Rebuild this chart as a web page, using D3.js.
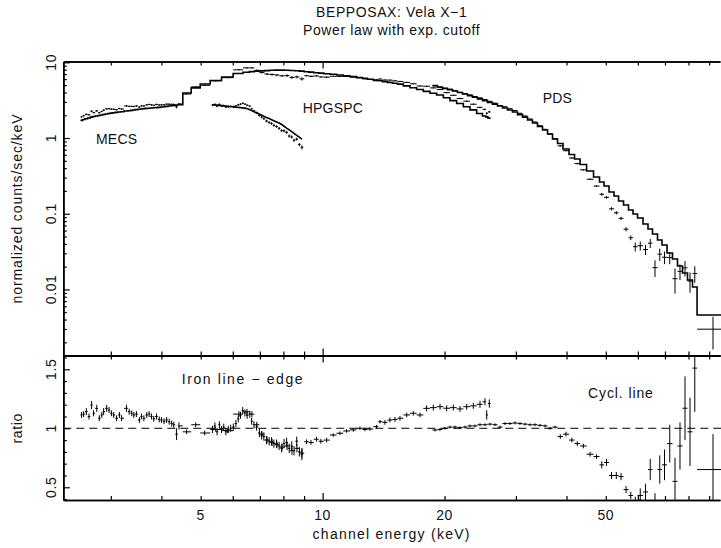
<!DOCTYPE html>
<html>
<head>
<meta charset="utf-8">
<script src="https://cdn.jsdelivr.net/npm/d3@7"></script>
<style>
  body { margin: 0; background: #fff; }
  svg text { font-family: "Liberation Sans", Arial, sans-serif; font-size: 14px; fill: #111; letter-spacing: 0.6px; }
</style>
</head>
<body>
<svg></svg>
<script>
// MECS spectrum: channel energy (keV), model (counts/s/keV), data/model ratio and its error
let mecsEnergy = [
  2.54, 2.57, 2.61, 2.65, 2.69, 2.72, 2.77, 2.81, 2.85, 2.88, 2.93, 2.97, 3.01, 3.05, 3.10, 3.15, 3.19, 3.28, 3.33, 3.38,
  3.42, 3.47, 3.53, 3.57, 3.62, 3.68, 3.73, 3.78, 3.83, 3.89, 3.95, 4.00, 4.06, 4.12, 4.18, 4.24, 4.29, 4.36, 4.42,
  4.616, 4.862, 5.114, 5.445, 5.82, 6.214,
  6.505, 6.69, 6.88, 7.08, 7.29, 7.50, 7.71, 7.94, 8.17, 8.40, 8.64, 8.89, 9.13, 9.36, 9.66, 9.90, 10.23, 10.62, 11.03, 11.46,
  11.90, 12.36, 12.72, 13.09, 13.59, 13.85, 14.25, 14.66, 15.09, 15.52, 16.13, 16.74, 17.39, 18.06, 18.76, 19.49, 20.24, 21.02, 21.83, 22.68,
  23.55, 24.46, 25.16, 25.41, 25.79
];
let mecsModel = [
  1.71, 1.755, 1.80, 1.84, 1.885, 1.92, 1.953, 1.986, 2.016, 2.045, 2.08, 2.11, 2.135, 2.156, 2.18, 2.204, 2.225, 2.27, 2.296, 2.32,
  2.344, 2.37, 2.397, 2.42, 2.445, 2.46, 2.478, 2.493, 2.508, 2.524, 2.54, 2.564, 2.59, 2.62, 2.65, 2.676, 2.70, 2.73, 2.76,
  3.93, 4.60, 5.17, 5.75, 6.40, 7.11,
  7.40, 7.54, 7.61, 7.70, 7.77, 7.84, 7.89, 7.89, 7.84, 7.79, 7.72, 7.65, 7.51, 7.42, 7.29, 7.20, 7.07, 6.94, 6.80, 6.65,
  6.47, 6.28, 6.13, 5.98, 5.78, 5.70, 5.56, 5.44, 5.30, 5.15, 4.88, 4.62, 4.37, 4.13, 3.91, 3.70, 3.40, 3.12, 2.86, 2.59,
  2.35, 2.11, 1.95, 1.905, 1.83
];
let mecsRatio = [
  1.113, 1.12, 1.141, 1.10, 1.197, 1.127, 1.169, 1.085, 1.113, 1.141, 1.169, 1.155, 1.127, 1.113, 1.085, 1.113, 1.085, 1.169, 1.141, 1.127,
  1.113, 1.12, 1.07, 1.10, 1.085, 1.113, 1.12, 1.10, 1.08, 1.10, 1.075, 1.07, 1.06, 1.07, 1.056, 1.04, 1.03, 0.95, 1.02,
  0.97, 1.03, 0.96, 0.99, 0.98, 1.12,
  1.14, 1.12, 1.03, 0.95, 0.90, 0.88, 0.86, 0.84, 0.85, 0.81, 0.83, 0.79, 0.886, 0.88, 0.907, 0.89, 0.90, 0.943, 0.958, 0.977,
  0.986, 1.0, 0.99, 0.994, 1.014, 1.056, 1.05, 1.07, 1.075, 1.085, 1.113, 1.127, 1.113, 1.169, 1.175, 1.183, 1.17, 1.175, 1.164, 1.183,
  1.19, 1.203, 1.225, 1.113, 1.21
];
let mecsRatioErr = [
  0.025, 0.025, 0.03, 0.025, 0.035, 0.025, 0.03, 0.025, 0.025, 0.03, 0.03, 0.025, 0.025, 0.025, 0.025, 0.025, 0.025, 0.03, 0.025, 0.025,
  0.025, 0.025, 0.025, 0.025, 0.025, 0.025, 0.025, 0.025, 0.025, 0.025, 0.025, 0.025, 0.025, 0.025, 0.025, 0.025, 0.025, 0.05, 0.03,
  0.02, 0.02, 0.02, 0.02, 0.02, 0.025,
  0.025, 0.025, 0.025, 0.025, 0.03, 0.03, 0.03, 0.03, 0.035, 0.035, 0.035, 0.04, 0.02, 0.02, 0.02, 0.02, 0.02, 0.015, 0.015, 0.015,
  0.015, 0.015, 0.015, 0.015, 0.015, 0.015, 0.02, 0.02, 0.02, 0.02, 0.02, 0.02, 0.02, 0.025, 0.025, 0.025, 0.025, 0.025, 0.025, 0.025,
  0.025, 0.03, 0.03, 0.04, 0.035
];

// HPGSPC spectrum
let hpgEnergy = [
  5.35, 5.42, 5.49, 5.56, 5.63, 5.70, 5.77, 5.85, 5.93, 6.02, 6.11, 6.19, 6.27, 6.35, 6.43, 6.51, 6.61, 6.68, 6.77, 6.87,
  6.98, 7.07, 7.16, 7.27, 7.38, 7.48, 7.58, 7.70, 7.81, 7.92, 8.03, 8.15, 8.27, 8.39, 8.50, 8.63, 8.76, 8.89
];
let hpgModel = [
  2.75, 2.73, 2.72, 2.70, 2.68, 2.66, 2.64, 2.62, 2.61, 2.58, 2.55, 2.54, 2.52, 2.50, 2.48, 2.445, 2.36, 2.30, 2.22, 2.145,
  2.07, 2.00, 1.935, 1.865, 1.805, 1.745, 1.69, 1.63, 1.58, 1.51, 1.43, 1.35, 1.28, 1.215, 1.153, 1.086, 1.025, 0.967
];
let hpgRatio = [
  0.99, 1.02, 0.97, 1.03, 0.99, 1.01, 0.97, 0.99, 1.0, 1.01, 1.04, 1.08, 1.11, 1.15, 1.13, 1.11, 1.12, 1.06, 1.03, 1.01,
  0.96, 0.94, 0.93, 0.90, 0.89, 0.89, 0.87, 0.87, 0.85, 0.83, 0.87, 0.88, 0.83, 0.85, 0.81, 0.89, 0.80, 0.78
];
let hpgRatioErr = [
  0.03, 0.03, 0.03, 0.03, 0.03, 0.03, 0.03, 0.03, 0.03, 0.03, 0.03, 0.03, 0.03, 0.03, 0.03, 0.03, 0.03, 0.03, 0.03, 0.03,
  0.035, 0.035, 0.035, 0.035, 0.035, 0.035, 0.035, 0.035, 0.035, 0.035, 0.04, 0.04, 0.04, 0.04, 0.04, 0.04, 0.04, 0.05
];

// PDS spectrum, given as channel edges (keV)
let pdsEdges = [
  18.67, 19.21, 19.76, 20.33, 20.92, 21.52, 22.14, 22.78, 23.43, 24.11, 24.81, 25.52, 26.26, 27.02, 27.80, 28.60, 29.42, 30.27, 31.15, 32.05,
  32.96, 33.92, 34.90, 35.91, 36.94, 38.01, 39.21, 40.57, 41.86, 43.20, 44.83, 46.64, 48.25, 49.50, 50.93, 52.40, 53.77, 55.31, 56.90, 58.37,
  59.88, 61.78, 63.56, 65.20, 67.09, 68.83, 70.81, 73.06, 75.16, 77.33, 79.56, 81.86, 84.00, 100.7
];
let pdsModel = [
  4.94, 4.72, 4.53, 4.36, 4.18, 3.99, 3.81, 3.63, 3.46, 3.29, 3.12, 2.95, 2.80, 2.65, 2.49, 2.34, 2.21, 2.04, 1.89, 1.73,
  1.58, 1.42, 1.276, 1.13, 0.97, 0.846, 0.716, 0.605, 0.528, 0.447, 0.366, 0.305, 0.262, 0.232, 0.1935, 0.1713, 0.1472, 0.1302, 0.1119, 0.0991,
  0.0877, 0.0731, 0.0628, 0.0539, 0.0449, 0.0386, 0.0303, 0.0252, 0.0204, 0.01646, 0.0133, 0.01076, 0.00459
];
let pdsRatio = [
  0.985, 0.99, 1.0, 1.01, 1.01, 1.005, 1.01, 1.02, 1.02, 1.03, 1.03, 1.035, 1.03, 1.01, 1.04, 1.04, 1.045, 1.04, 1.035, 1.03,
  1.03, 1.025, 1.02, 1.0, 1.01, 0.93, 0.95, 0.90, 0.87, 0.85, 0.78, 0.76, 0.69, 0.71, 0.60, 0.60, 0.59, 0.48, 0.43, 0.37,
  0.43, 0.46, 0.65, 0.36, 0.65, 0.69, 0.87, 0.55, 0.85, 1.17, 0.97, 1.51, 0.65
];
let pdsRatioErr = [
  0.012, 0.012, 0.012, 0.012, 0.012, 0.012, 0.012, 0.012, 0.012, 0.012, 0.012, 0.012, 0.012, 0.012, 0.012, 0.012, 0.012, 0.012, 0.012, 0.012,
  0.012, 0.012, 0.012, 0.012, 0.012, 0.02, 0.02, 0.02, 0.02, 0.02, 0.02, 0.02, 0.03, 0.03, 0.03, 0.03, 0.03, 0.03, 0.03, 0.05,
  0.06, 0.07, 0.09, 0.09, 0.12, 0.13, 0.16, 0.2, 0.2, 0.27, 0.29, 0.37, 0.3
];

// tick labels
let xTickLabels = [5, 10, 20, 50];
let countTickLabels = [10, 1, 0.1, 0.01];
let ratioTickLabels = [1.5, 1, 0.5];

let width = 721;
let height = 548;
let left = 63.3;
let right = 720;
let topY = 61.5;
let midY = 355.5;
let bottomY = 500;

let svg = d3.select('svg').attr('width', width).attr('height', height);

let xScale = d3.scaleLog().domain([2.29, 95.7]).range([left, right]);
let yCounts = d3.scaleLog().domain([0.00134, 10.25]).range([midY, topY]);
let yRatio = d3.scaleLinear().domain([0.392, 1.617]).range([bottomY, midY]);

// bins: edges from neighbouring channels unless given
let makeBins = (energy, model, ratio, err, edges) => energy.map((e, i) => {
  let lo, hi;
  if (edges) {
    lo = edges[i];
    hi = edges[i + 1];
  } else {
    lo = i > 0 ? Math.sqrt(energy[i - 1] * e) : e * e / Math.sqrt(e * energy[i + 1]);
    hi = i < energy.length - 1 ? Math.sqrt(e * energy[i + 1]) : e * e / Math.sqrt(energy[i - 1] * e);
  }
  return { e, lo, hi, model: model[i], ratio: ratio[i], err: err[i],
           counts: model[i] * ratio[i], countsErr: model[i] * err[i] };
});

let pdsEnergy = pdsModel.map((_d, i) => Math.sqrt(pdsEdges[i] * pdsEdges[i + 1]));

let mecs = makeBins(mecsEnergy, mecsModel, mecsRatio, mecsRatioErr);
let hpg = makeBins(hpgEnergy, hpgModel, hpgRatio, hpgRatioErr);
let pds = makeBins(pdsEnergy, pdsModel, pdsRatio, pdsRatioErr, pdsEdges);

let defs = svg.append('defs');
defs.append('clipPath').attr('id', 'clipTop')
    .append('rect').attr('x', left).attr('y', topY).attr('width', width - left + 10).attr('height', midY - topY);
defs.append('clipPath').attr('id', 'clipBottom')
    .append('rect').attr('x', left).attr('y', midY).attr('width', width - left + 10).attr('height', bottomY - midY);

let topPanel = svg.append('g').attr('clip-path', 'url(#clipTop)');
let bottomPanel = svg.append('g').attr('clip-path', 'url(#clipBottom)');

let stepLine = d3.line().x(d => xScale(d[0])).y(d => yCounts(d[1])).curve(d3.curveStepAfter);
let smoothLine = d3.line().x(d => xScale(d.e)).y(d => yCounts(d.model));

let stepPoints = bins => bins.map(b => [b.lo, b.model]).concat([[bins[bins.length - 1].hi, bins[bins.length - 1].model]]);

let drawModels = () => {
  topPanel.append('path').attr('d', stepLine(stepPoints(mecs)))
          .attr('fill', 'none').attr('stroke', '#000').attr('stroke-width', 1.6);
  topPanel.append('path').attr('d', smoothLine(hpg))
          .attr('fill', 'none').attr('stroke', '#000').attr('stroke-width', 1.6);
  topPanel.append('path').attr('d', stepLine(stepPoints(pds)))
          .attr('fill', 'none').attr('stroke', '#000').attr('stroke-width', 1.6);
}

let drawCrosses = (panel, bins, yScale, val, err) => {
  let g = panel.append('g').attr('stroke', '#000').attr('stroke-width', 1);
  bins.forEach(b => {
    let v = val(b);
    let e = err(b);
    g.append('line')
     .attr('x1', xScale(b.lo)).attr('x2', xScale(b.hi))
     .attr('y1', yScale(v)).attr('y2', yScale(v));
    g.append('line')
     .attr('x1', xScale(b.e)).attr('x2', xScale(b.e))
     .attr('y1', yScale(Math.max(v - e, 1e-5))).attr('y2', yScale(v + e));
  });
}

let drawData = () => {
  [mecs, hpg, pds].forEach(bins => {
    drawCrosses(topPanel, bins, yCounts, b => b.counts, b => b.countsErr);
    drawCrosses(bottomPanel, bins, yRatio, b => b.ratio, b => b.err);
  });
  bottomPanel.append('line')
     .attr('x1', left).attr('x2', width)
     .attr('y1', yRatio(1)).attr('y2', yRatio(1))
     .attr('stroke', '#000').attr('stroke-width', 1)
     .attr('stroke-dasharray', '8,5');
}

let drawAxes = () => {
  let minorX = xScale.ticks().filter(v => Math.abs(Math.log10(v) % 1) > 1e-6);
  let majorX = [10];
  let xAxisPairs = [
    [d3.axisTop, topY], [d3.axisBottom, midY], [d3.axisTop, midY], [d3.axisBottom, bottomY]
  ];
  xAxisPairs.forEach(([axisFn, y]) => {
    svg.append('g').attr('transform', `translate(0, ${y})`)
       .call(axisFn(xScale).tickValues(minorX).tickSize(-4).tickSizeOuter(0).tickFormat(''));
    svg.append('g').attr('transform', `translate(0, ${y})`)
       .call(axisFn(xScale).tickValues(majorX).tickSize(-7).tickSizeOuter(0).tickFormat(''));
  });

  let minorY = yCounts.ticks().filter(v => Math.abs(Math.log10(v) - Math.round(Math.log10(v))) > 1e-6);
  svg.append('g').attr('transform', `translate(${left}, 0)`)
     .call(d3.axisLeft(yCounts).tickValues(minorY).tickSize(-3.5).tickSizeOuter(0).tickFormat(''));
  svg.append('g').attr('transform', `translate(${left}, 0)`)
     .call(d3.axisLeft(yCounts).tickValues(countTickLabels).tickSize(-6.5).tickSizeOuter(0).tickFormat(''));

  let minorR = d3.range(4, 17).map(v => v / 10).filter(v => !ratioTickLabels.includes(v));
  svg.append('g').attr('transform', `translate(${left}, 0)`)
     .call(d3.axisLeft(yRatio).tickValues(minorR).tickSize(-3.5).tickSizeOuter(0).tickFormat(''));
  svg.append('g').attr('transform', `translate(${left}, 0)`)
     .call(d3.axisLeft(yRatio).tickValues(ratioTickLabels).tickSize(-6.5).tickSizeOuter(0).tickFormat(''));

  svg.selectAll('.domain').attr('stroke', '#000').attr('stroke-width', 1.6);
  svg.selectAll('.tick line').attr('stroke', '#000').attr('stroke-width', 1.2);

  // tick labels
  svg.selectAll('.xlab').data(xTickLabels).enter().append('text')
     .attr('x', d => xScale(d)).attr('y', 520)
     .attr('text-anchor', 'middle').text(d => d);
  svg.selectAll('.clab').data(countTickLabels).enter().append('text')
     .attr('transform', d => `translate(56, ${yCounts(d)}) rotate(-90)`)
     .attr('text-anchor', 'middle').text(d => d);
  svg.selectAll('.rlab').data(ratioTickLabels).enter().append('text')
     .attr('transform', d => `translate(56, ${yRatio(d)}) rotate(-90)`)
     .attr('text-anchor', 'middle').text(d => d);
}

let drawText = () => {
  let cx = (left + right) / 2;
  svg.append('text').attr('x', cx).attr('y', 17).attr('text-anchor', 'middle').text('BEPPOSAX: Vela X\u22121');
  svg.append('text').attr('x', cx).attr('y', 35).attr('text-anchor', 'middle').text('Power law with exp. cutoff');
  svg.append('text').attr('x', cx).attr('y', 539).attr('text-anchor', 'middle')
     .style('letter-spacing', '1.25px').text('channel energy (keV)');
  svg.append('text').attr('transform', `translate(22, ${(topY + midY) / 2}) rotate(-90)`)
     .attr('text-anchor', 'middle').style('letter-spacing', '0.9px').text('normalized counts/sec/keV');
  svg.append('text').attr('transform', `translate(22, ${yRatio(1)}) rotate(-90)`)
     .attr('text-anchor', 'middle').text('ratio');

  svg.append('text').attr('x', 96).attr('y', 144.3).style('letter-spacing', '0.2px').text('MECS');
  svg.append('text').attr('x', 302.7).attr('y', 113.3).style('letter-spacing', '0.2px').text('HPGSPC');
  svg.append('text').attr('x', 542.7).attr('y', 103.3).style('letter-spacing', '0.2px').text('PDS');
  svg.append('text').attr('x', 181.7).attr('y', 384.3).style('letter-spacing', '1.6px').text('Iron line \u2212 edge');
  svg.append('text').attr('x', 588).attr('y', 397.5).style('letter-spacing', '0.9px').text('Cycl. line');
}

drawModels()
drawData()
drawAxes()
drawText()
</script>
</body>
</html>
